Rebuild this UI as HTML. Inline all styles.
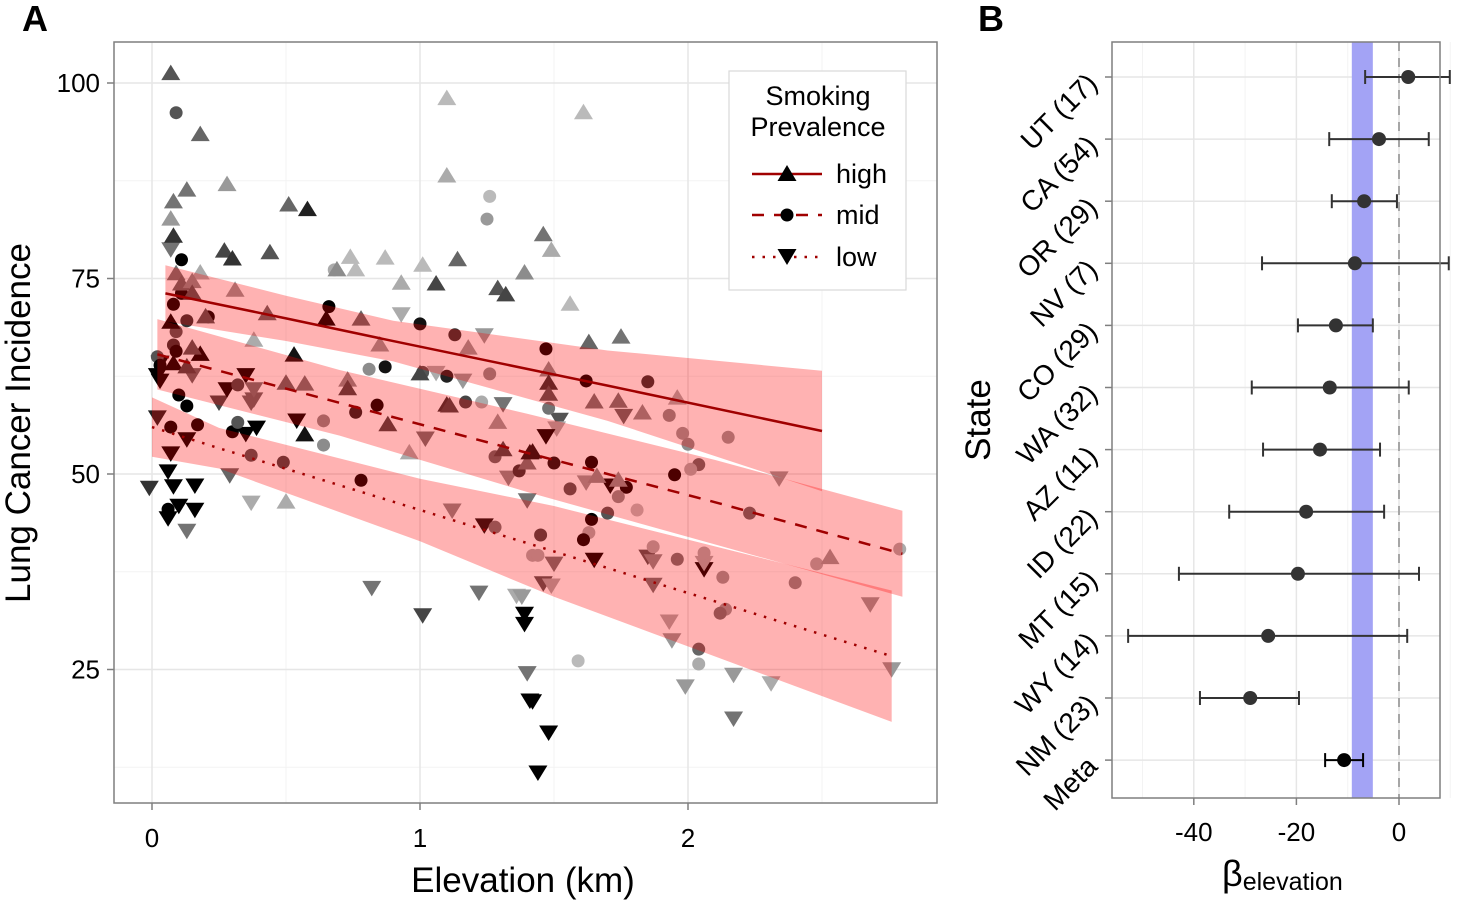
<!DOCTYPE html>
<html><head><meta charset="utf-8"><style>
html,body{margin:0;padding:0;background:#fff}
svg{display:block;font-family:"Liberation Sans",sans-serif}
</style></head><body>
<svg id="s" width="1469" height="900" viewBox="0 0 1469 900">
<text x="22" y="31" font-size="36" font-weight="bold">A</text>
<text x="978" y="31" font-size="36" font-weight="bold">B</text>
<rect x="114" y="42" width="823" height="761" fill="#fff"/>
<g id="gA"></g>
<g id="ptsA"></g>
<g id="bandsA"></g>
<g id="linesA"></g>
<rect x="114" y="42" width="823" height="761" fill="none" stroke="#7f7f7f" stroke-width="1.5"/>
<g id="axA"></g>
<text transform="translate(30,423) rotate(-90)" text-anchor="middle" font-size="35">Lung Cancer Incidence</text>
<text x="523" y="892" text-anchor="middle" font-size="35">Elevation (km)</text>
<g>
<rect x="729" y="71" width="177" height="219" fill="#fff" stroke="#d9d9d9" stroke-width="1.2"/>
<text x="818" y="105" text-anchor="middle" font-size="27">Smoking</text>
<text x="818" y="136" text-anchor="middle" font-size="27">Prevalence</text>
<g><line x1="752" y1="174" x2="822" y2="174" stroke="#a00000" stroke-width="2.5"/><polygon points="787,165 777.5,181 796.5,181" fill="#000"/><text x="836" y="183" font-size="27">high</text></g>
<g><line x1="752" y1="215" x2="822" y2="215" stroke="#a00000" stroke-width="2.5" stroke-dasharray="12,10"/><circle cx="787" cy="215" r="6.5" fill="#000"/><text x="836" y="224" font-size="27">mid</text></g>
<g><line x1="752" y1="257" x2="822" y2="257" stroke="#a00000" stroke-width="2.5" stroke-dasharray="2.5,8"/><polygon points="787,265 777.5,249 796.5,249" fill="#000"/><text x="836" y="266" font-size="27">low</text></g>
</g>
<rect x="1112" y="42" width="328" height="756" fill="#fff"/>
<g id="gB"></g>
<g id="plotB"></g>
<rect x="1112" y="42" width="328" height="756" fill="none" stroke="#7f7f7f" stroke-width="1.5"/>
<g id="axB"></g>
<text transform="translate(990,420) rotate(-90)" text-anchor="middle" font-size="35">State</text>
<text x="1222" y="886" font-size="36">β<tspan font-size="25" dy="4">elevation</tspan></text>
</svg>
<script>
// Panel A data: [elevation km, incidence, tone]
const highPts=[[.07,101.2,.33],[.18,93.4,.4],[.13,86.3,.45],[.08,84.8,.45],[.07,82.6,.6],[.08,80.4,.2],[.28,87.0,.6],[.51,84.4,.4],[.58,83.8,.13],[.27,78.5,.27],[.30,77.5,.2],[.44,78.3,.33],[.74,77.7,.73],[.69,76.1,.55],[.76,76.1,.73],[.87,77.6,.73],[1.01,76.7,.73],[1.14,77.4,.4],[1.39,75.7,.55],[.93,74.4,.67],[1.06,74.3,.27],[1.29,73.7,.33],[1.32,72.9,.27],[1.10,98.0,.73],[1.10,88.1,.67],[1.61,96.2,.73],[1.46,80.6,.45],[1.49,78.6,.67],[1.56,71.7,.73],[1.63,66.8,.4],[1.75,67.5,.45],[1.48,63.3,.55],[1.48,61.6,.2],[1.48,60.2,.33],[1.65,59.2,.45],[1.74,59.3,.45],[1.83,57.8,.55],[1.96,59.7,.67],[1.42,52.8,.07],[1.40,51.4,.45],[1.66,49.7,.55],[1.74,49.2,.55],[2.53,39.3,.6],[.09,75.6,.45],[.18,75.7,.67],[.11,74.3,.4],[.15,74.6,.55],[.15,73.1,.33],[.31,73.5,.6],[.43,70.5,.4],[.65,69.8,0],[.78,69.8,.4],[.85,66.5,.6],[1.18,66.1,.6],[.07,69.4,0],[.20,70.1,.33],[.38,67.1,.67],[.53,65.2,.07],[.18,65.3,0],[.15,66.1,.33],[.08,64.1,0],[.13,63.7,.27],[1.00,62.8,.27],[.73,62.0,.55],[.73,60.9,.27],[.50,61.6,.4],[.57,61.5,.45],[1.10,58.8,.2],[1.29,56.6,.6],[.57,55.0,.07],[.96,52.7,.67],[.50,46.4,.67],[.88,56.3,.27],[1.11,58.7,.27],[1.31,53.1,.27],[1.41,52.7,.07]];
const midPts=[[.09,96.2,.33],[.11,77.4,0],[.11,73.1,0],[.08,71.7,0],[.13,69.6,.2],[.21,70.1,0],[.09,68.2,.33],[.08,66.5,.2],[.09,65.7,0],[.02,65.0,.33],[.03,63.9,0],[.66,71.4,0],[1.00,69.2,.07],[1.13,67.8,.2],[1.26,62.8,.55],[.81,63.4,.55],[.87,63.7,.07],[.68,76.1,.67],[1.26,85.5,.73],[1.25,82.6,.6],[1.01,63.0,.33],[1.10,62.5,.13],[1.17,59.2,.27],[1.23,59.2,.67],[.84,58.8,0],[.76,57.9,.13],[.32,61.4,.27],[.10,60.1,0],[.13,58.7,0],[.07,56.0,0],[.17,56.3,0],[.30,55.4,0],[.32,56.6,.33],[.64,56.8,.55],[.64,53.7,.55],[.37,52.4,.33],[.49,51.5,.27],[.78,49.2,0],[1.28,43.2,.45],[1.28,52.2,.4],[1.37,50.4,.2],[.06,45.5,0],[1.42,39.6,.67],[1.47,66.0,0],[1.62,61.9,0],[1.85,61.8,.2],[1.48,58.4,.45],[1.93,57.5,.55],[1.98,55.2,.6],[2.00,53.8,.55],[2.15,54.7,.6],[2.04,51.2,.4],[2.01,50.6,.67],[1.50,51.4,.07],[1.64,51.5,0],[1.56,48.1,.33],[1.77,48.3,0],[1.95,49.9,0],[1.74,47.1,.55],[1.81,45.4,.73],[1.64,44.2,0],[1.70,45.0,.33],[1.63,42.5,.67],[1.61,41.6,0],[2.23,45.0,.4],[1.45,42.2,.27],[1.44,39.6,.67],[1.87,40.7,.67],[1.96,39.1,.45],[2.06,39.9,.67],[2.13,36.8,.6],[2.14,32.7,.6],[2.12,32.2,.45],[2.40,36.1,.55],[2.48,38.5,.67],[2.79,40.4,.67],[1.59,26.1,.73],[2.04,27.6,.4],[2.04,25.7,.67]];
const lowPts=[[.02,57.3,.13],[.07,52.7,0],[.06,50.4,0],[.08,48.5,0],[-.01,48.3,.2],[.16,48.6,0],[.10,46.0,0],[.16,45.5,0],[.06,44.4,0],[.13,42.8,.45],[.13,54.5,0],[.25,59.2,.27],[.37,59.2,.4],[.35,55.2,0],[.39,56.0,0],[.29,49.9,.4],[.37,46.4,.67],[.54,56.9,0],[.82,35.5,.45],[1.01,32.0,.27],[1.12,45.4,.55],[1.24,43.5,.07],[1.22,34.9,.45],[1.36,34.5,.67],[1.40,24.6,.45],[1.41,21.1,0],[1.39,32.2,0],[1.39,30.9,0],[1.02,54.6,.45],[1.33,49.6,.55],[1.40,46.7,.45],[.03,62.0,0],[.02,62.7,0],[.15,62.7,.4],[.28,60.9,0],[.35,62.7,0],[.38,59.6,.4],[.38,60.9,.45],[.93,70.5,.67],[1.06,63.0,.67],[1.16,62.0,.6],[1.24,67.8,.6],[1.31,59.0,.45],[.07,78.8,.45],[.03,64.3,0],[1.52,57.0,.33],[1.51,55.9,.67],[1.47,54.9,0],[1.76,57.5,.4],[1.62,49.0,.6],[1.71,48.6,0],[1.50,38.6,.45],[1.65,39.1,0],[1.85,39.5,.33],[1.87,38.9,.55],[2.06,37.9,0],[2.06,38.7,.67],[1.46,36.1,.33],[1.49,35.8,.67],[1.87,35.9,.45],[2.34,49.5,.6],[2.68,33.4,.6],[1.93,31.2,.67],[1.94,28.8,.6],[2.76,25.1,.6],[2.17,24.4,.6],[2.31,23.3,.67],[1.99,22.9,.6],[2.17,18.8,.45],[1.42,21.0,0],[1.48,17.0,0],[1.44,11.9,0],[1.38,34.4,.6]];
// fitted lines and confidence half-widths
const highBandX=[0.05,0.5,0.9,1.7,2.5];
const highFit=[73.1,69.9,67.0,61.3,55.5];
const highHW=[3.6,2.9,2.6,4.5,7.7];
const midBandX=[0.02,0.7,1.4,2.1,2.8];
const midFit=[65.3,59.1,52.7,46.4,39.8];
const midHW=[4.5,4.2,5.0,5.4,5.5];
const lowBandX=[0,0.25,1.0,1.5,2.76];
const lowFit=[56.0,53.3,45.4,40.1,26.7];
const lowHW=[3.8,2.6,4.0,5.8,8.4];
const xTicks=[0,1,2];
const yTicks=[25,50,75,100];
// Panel B data
const states=["UT (17)","CA (54)","OR (29)","NV (7)","CO (29)","WA (32)","AZ (11)","ID (22)","MT (15)","WY (14)","NM (23)","Meta"];
const est=[1.8,-3.9,-6.8,-8.6,-12.3,-13.5,-15.4,-18.1,-19.7,-25.5,-29.0,-10.7];
const lo=[-6.6,-13.6,-13.1,-26.7,-19.7,-28.7,-26.5,-33.1,-42.9,-52.8,-38.8,-14.4];
const hi=[9.9,5.8,-0.4,9.7,-5.1,1.9,-3.7,-2.9,3.9,1.6,-19.5,-7.0];
const metaBand=[-9.2,-5.1];
const bTicks=[-40,-20,0];

const NS="http://www.w3.org/2000/svg";
function mk(tag,attrs,parent){const e=document.createElementNS(NS,tag);for(const k in attrs)e.setAttribute(k,attrs[k]);parent.appendChild(e);return e;}
const sx=v=>152+v*268, sy=v=>474-(v-50)*7.82;
const bx=v=>1399+v*5.13, by=i=>77+i*62.1;
const gA=document.getElementById('gA');
[0.5,1.5,2.5].forEach(v=>{const l=mk('line',{x1:sx(v),x2:sx(v),y1:42,y2:803,stroke:'#f3f3f3','stroke-width':1},gA);});
[37.5,62.5,87.5,12.5].forEach(v=>{const l=mk('line',{x1:114,x2:937,y1:sy(v),y2:sy(v),stroke:'#f3f3f3','stroke-width':1},gA);});
xTicks.forEach(v=>{const l=mk('line',{x1:sx(v),x2:sx(v),y1:42,y2:803,stroke:'#e6e6e6','stroke-width':1.5},gA);});
yTicks.forEach(v=>{const l=mk('line',{x1:114,x2:937,y1:sy(v),y2:sy(v),stroke:'#e6e6e6','stroke-width':1.5},gA);});
const pts=document.getElementById('ptsA');
function gray(t){const g=Math.round(t*255);return `rgb(${g},${g},${g})`;}
function tri(p,up,name){const x=sx(p[0]),y=sy(p[1]);const d=up?`${x},${y-9} ${x-9.5},${y+6.5} ${x+9.5},${y+6.5}`:`${x},${y+9} ${x-9.5},${y-6.5} ${x+9.5},${y-6.5}`;const e=mk('polygon',{points:d,fill:gray(p[2])},pts);}
lowPts.forEach(p=>tri(p,false,'low-point'));
midPts.forEach(p=>{const e=mk('circle',{cx:sx(p[0]),cy:sy(p[1]),r:6.5,fill:gray(p[2])},pts);});
highPts.forEach(p=>tri(p,true,'high-point'));
const bands=document.getElementById('bandsA'),lines=document.getElementById('linesA');
function band(X,F,H,name,dash){let up=X.map((x,i)=>`${sx(x)},${sy(F[i]+H[i])}`);let dn=X.map((x,i)=>`${sx(x)},${sy(F[i]-H[i])}`).reverse();
const b=mk('polygon',{points:up.concat(dn).join(' '),fill:'rgba(255,0,0,0.3)'},bands);
const l=mk('polyline',{points:X.map((x,i)=>`${sx(x)},${sy(F[i])}`).join(' '),fill:'none',stroke:'#a00000','stroke-width':2.5,'stroke-dasharray':dash},lines);}
band(highBandX,highFit,highHW,'high','none');
band(midBandX,midFit,midHW,'mid','12,10');
band(lowBandX,lowFit,lowHW,'low','2.5,8');
const axA=document.getElementById('axA');
xTicks.forEach(v=>{const t=mk('line',{x1:sx(v),x2:sx(v),y1:803,y2:810,stroke:'#7f7f7f','stroke-width':1.5},axA);
const s=mk('text',{x:sx(v),y:847,'text-anchor':'middle','font-size':26,fill:'#000'},axA);s.textContent=v;});
yTicks.forEach(v=>{const t=mk('line',{x1:107,x2:114,y1:sy(v),y2:sy(v),stroke:'#7f7f7f','stroke-width':1.5},axA);
const s=mk('text',{x:100,y:sy(v)+9,'text-anchor':'end','font-size':26,fill:'#000'},axA);s.textContent=v;});
// Panel B
const gB=document.getElementById('gB');
[-50,-30,-10,10].forEach(v=>{const l=mk('line',{x1:bx(v),x2:bx(v),y1:42,y2:798,stroke:'#f3f3f3','stroke-width':1},gB);});
bTicks.forEach(v=>{const l=mk('line',{x1:bx(v),x2:bx(v),y1:42,y2:798,stroke:'#e6e6e6','stroke-width':1.5},gB);});
states.forEach((s,i)=>{const l=mk('line',{x1:1112,x2:1440,y1:by(i),y2:by(i),stroke:'#e6e6e6','stroke-width':1.5},gB);});
const pB=document.getElementById('plotB');
const mb=mk('rect',{x:bx(metaBand[0]),y:42,width:bx(metaBand[1])-bx(metaBand[0]),height:756,fill:'#a3a3f5'},pB);


const zl=mk('line',{x1:bx(0),x2:bx(0),y1:42,y2:798,stroke:'#a6a6a6','stroke-width':2,'stroke-dasharray':'9,7'},pB);


states.forEach((s,i)=>{const y=by(i),c=i==11?'#000':'#333';
const g=mk('g',{},pB);
mk('line',{x1:bx(lo[i]),x2:bx(hi[i]),y1:y,y2:y,stroke:c,'stroke-width':2},g);
mk('line',{x1:bx(lo[i]),x2:bx(lo[i]),y1:y-7,y2:y+7,stroke:c,'stroke-width':2},g);
mk('line',{x1:bx(hi[i]),x2:bx(hi[i]),y1:y-7,y2:y+7,stroke:c,'stroke-width':2},g);
mk('circle',{cx:bx(est[i]),cy:y,r:7,fill:c},g);});
const axB=document.getElementById('axB');
bTicks.forEach(v=>{const t=mk('line',{x1:bx(v),x2:bx(v),y1:798,y2:805,stroke:'#7f7f7f','stroke-width':1.5},axB);
const s=mk('text',{x:bx(v),y:841,'text-anchor':'middle','font-size':26,fill:'#000'},axB);s.textContent=v;});
states.forEach((st,i)=>{const y=by(i);const t=mk('line',{x1:1105,x2:1112,y1:y,y2:y,stroke:'#7f7f7f','stroke-width':1.5},axB);
const s=mk('text',{transform:`translate(1099,${y+8}) rotate(-45)`,'text-anchor':'end','font-size':28,fill:'#000'},axB);s.textContent=st;});
</script>
</body></html>
